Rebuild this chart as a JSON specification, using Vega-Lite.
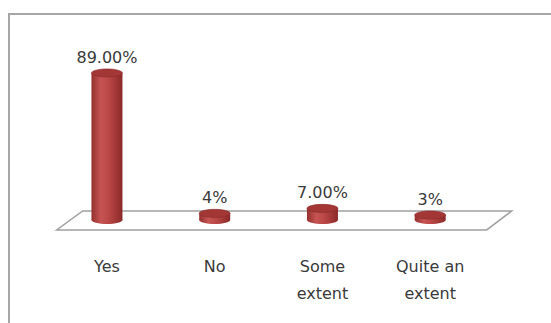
{
  "$schema": "https://vega.github.io/schema/vega-lite/v6.json",
  "width": 544,
  "height": 311,
  "autosize": "none",
  "padding": {"left": 9, "top": 14, "right": -2, "bottom": -2},
  "background": "white",
  "config": {"view": {"stroke": "#a6a6a6", "strokeWidth": 2}, "font": "DejaVu Sans"},
  "data": {"values": [
    {"cat": "Yes", "value": 89, "label": "89.00%", "name": "Yes"},
    {"cat": "No", "value": 4, "label": "4%", "name": "No"},
    {"cat": "Some extent", "value": 7, "label": "7.00%", "name": "Some\nextent"},
    {"cat": "Quite an extent", "value": 3, "label": "3%", "name": "Quite an\nextent"}
  ]},
  "encoding": {
    "x": {"field": "cat", "type": "nominal", "sort": null, "axis": null,
          "scale": {"domain": ["Yes", "No", "Some extent", "Quite an extent"], "paddingInner": 0, "paddingOuter": 0.5245, "align": 0.39}},
    "y": {"field": "value", "type": "quantitative", "axis": null,
          "scale": {"domain": [-63.6, 124.7], "nice": false, "zero": false}}
  },
  "layer": [
    {
      "transform": [{"filter": "datum.cat == 'No'"}],
      "mark": {"type": "point", "shape": "M-0.44,-0.03L0.99,-0.03L0.9067,0.0333L-0.5267,0.0333Z", "size": 360000,
               "filled": true, "fill": "white", "stroke": "#a0a0a0", "strokeWidth": 1.5, "opacity": 1},
      "encoding": {"y": {"datum": 0}}
    },
    {
      "mark": {"type": "bar", "size": 31,
               "fill": {"gradient": "linear", "x1": 0, "y1": 0, "x2": 1, "y2": 0,
                        "stops": [{"offset": 0, "color": "#93302f"}, {"offset": 0.3, "color": "#c55453"}, {"offset": 0.55, "color": "#bb4847"}, {"offset": 1, "color": "#8a2928"}]}},
      "encoding": {"y2": {"datum": 0}}
    },
    {
      "mark": {"type": "point", "shape": "M-1,0C-1,-0.1436,-0.5523,-0.26,0,-0.26C0.5523,-0.26,1,-0.1436,1,0C1,0.1436,0.5523,0.26,0,0.26C-0.5523,0.26,-1,0.1436,-1,0Z",
               "size": 961, "filled": true, "opacity": 1, "strokeWidth": 0,
               "fill": {"gradient": "linear", "x1": 0, "y1": 0, "x2": 1, "y2": 0,
                        "stops": [{"offset": 0, "color": "#93302f"}, {"offset": 0.3, "color": "#c55453"}, {"offset": 0.55, "color": "#bb4847"}, {"offset": 1, "color": "#8a2928"}]}},
      "encoding": {"y": {"datum": 0}}
    },
    {
      "mark": {"type": "point", "shape": "M-1,0C-1,-0.1436,-0.5523,-0.26,0,-0.26C0.5523,-0.26,1,-0.1436,1,0C1,0.1436,0.5523,0.26,0,0.26C-0.5523,0.26,-1,0.1436,-1,0Z",
               "size": 961, "filled": true, "opacity": 1, "fill": "#a23736", "stroke": "#8a2a2a", "strokeWidth": 0.6}
    },
    {
      "mark": {"type": "text", "dy": -10, "baseline": "alphabetic", "fontSize": 16, "color": "#3a3a3a"},
      "encoding": {"text": {"field": "label"}}
    },
    {
      "mark": {"type": "text", "baseline": "alphabetic", "fontSize": 16, "lineHeight": 27, "lineBreak": "\n", "color": "#3a3a3a"},
      "encoding": {"y": {"datum": -31.5}, "text": {"field": "name"}}
    }
  ]
}
